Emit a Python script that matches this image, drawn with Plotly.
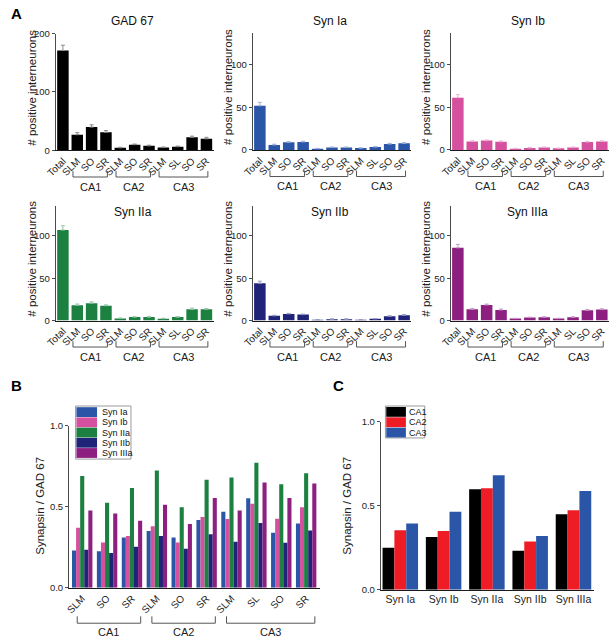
import plotly.graph_objects as go

W, H = 610, 640
FONT = "Liberation Sans, Arial, Helvetica, sans-serif"

# ---------------- data ----------------
region_labels = ["Total", "SLM", "SO", "SR", "SLM", "SO", "SR", "SLM", "SL", "SO", "SR"]
area_names = ["CA1", "CA2", "CA3"]
area_members = [[1, 2, 3], [4, 5, 6], [7, 8, 9, 10]]

gad67 = [171, 27, 40, 31, 4.5, 10, 8, 5, 6.5, 22.5, 20]
gad67_err = [9, 3.5, 4, 3, 1, 1, 1, 1, 1, 2, 2.5]
syn_ia = [52, 6, 9, 9.5, 1.5, 3, 3, 2.2, 3.5, 7, 7.8]
syn_ia_err = [4, 0.8, 0.8, 0.8, 0.4, 0.5, 0.5, 0.4, 0.5, 0.8, 0.8]
syn_ib = [61.5, 10, 11, 9.7, 1.5, 2.4, 3, 1.9, 3, 9.3, 10]
syn_ib_err = [3.5, 0.8, 0.8, 0.8, 0.4, 0.5, 0.5, 0.4, 0.5, 0.8, 0.8]
syn_iia = [107, 18, 20.5, 17.5, 2.5, 4, 4, 2.2, 4, 13.2, 13.2]
syn_iia_err = [5, 1.5, 1.5, 1, 0.5, 0.5, 0.5, 0.5, 0.5, 1.5, 1]
syn_iib = [44, 5.6, 7.8, 7, 0.8, 1.6, 1.6, 0.8, 2, 5, 6.3]
syn_iib_err = [2.5, 0.6, 0.6, 0.6, 0.3, 0.3, 0.3, 0.3, 0.3, 0.6, 0.6]
syn_iiia = [86, 13.3, 18.4, 12.5, 2.3, 3.5, 3.9, 2.3, 3.9, 12.1, 12.9]
syn_iiia_err = [4, 1, 1, 1, 0.4, 0.5, 0.5, 0.4, 0.5, 1, 1]

a_titles = ["GAD 67", "Syn Ia", "Syn Ib", "Syn IIa", "Syn IIb", "Syn IIIa"]
a_values = [gad67, syn_ia, syn_ib, syn_iia, syn_iib, syn_iiia]
a_errors = [gad67_err, syn_ia_err, syn_ib_err, syn_iia_err, syn_iib_err, syn_iiia_err]

# Panel B: synapsin / GAD67 ratio per region
b_regions = ["SLM", "SO", "SR", "SLM", "SO", "SR", "SLM", "SL", "SO", "SR"]
b_members = [[0, 1, 2], [3, 4, 5], [6, 7, 8, 9]]
b_series = ["Syn Ia", "Syn Ib", "Syn IIa", "Syn IIb", "Syn IIIa"]
b_syn_ia = [0.23, 0.225, 0.31, 0.35, 0.31, 0.418, 0.469, 0.552, 0.339, 0.396]
b_syn_ib = [0.37, 0.28, 0.32, 0.38, 0.28, 0.436, 0.424, 0.519, 0.426, 0.497]
b_syn_iia = [0.69, 0.525, 0.615, 0.724, 0.497, 0.667, 0.68, 0.771, 0.639, 0.706]
b_syn_iib = [0.235, 0.215, 0.254, 0.32, 0.241, 0.33, 0.284, 0.40, 0.278, 0.353]
b_syn_iiia = [0.477, 0.458, 0.414, 0.513, 0.394, 0.554, 0.477, 0.649, 0.554, 0.643]
b_values = [b_syn_ia, b_syn_ib, b_syn_iia, b_syn_iib, b_syn_iiia]

# Panel C: synapsin / GAD67 ratio per area
c_categories = ["Syn Ia", "Syn Ib", "Syn IIa", "Syn IIb", "Syn IIIa"]
c_series = ["CA1", "CA2", "CA3"]
c_ca1 = [0.25, 0.314, 0.598, 0.232, 0.449]
c_ca2 = [0.354, 0.35, 0.604, 0.287, 0.473]
c_ca3 = [0.395, 0.465, 0.682, 0.32, 0.588]
c_values = [c_ca1, c_ca2, c_ca3]

# ---------------- styles ----------------
syn_colors = ["#2b56a8", "#d5519f", "#1b8040", "#1f2478", "#8c1f80"]
a_colors = ["#000000"] + syn_colors
c_colors = ["#000000", "#ee1c24", "#2b56a8"]


def tint(hex_color, f=0.5):
    h = hex_color.lstrip("#")
    r, g, b = (int(h[i:i + 2], 16) for i in (0, 2, 4))
    r, g, b = (int(c + (255 - c) * f) for c in (r, g, b))
    return f"rgb({r},{g},{b})"


def px(x):
    return x / W


def py(y):
    return 1 - y / H


AXIS_Y = "#4a4a4a"
AXIS_X = "#1a1a1a"
BRACKET = "#555555"
YTICK_FONT = dict(size=9.5, color="#222")

# subplot frames in pixels: (left, right, top, bottom, ymax, dtick, title_y)
a_frames = [
    (46.5, 207, 28, 147, 200, 100, 15),
    (246.7, 408, 27, 146.5, 138, 50, 15),
    (448, 609, 27, 146.5, 138, 50, 15),
    (46.5, 207, 203, 320, 136, 50, 210),
    (246.7, 408, 203, 320, 136, 50, 210),
    (448, 609, 203, 320, 136, 50, 210),
]

fig = go.Figure()
layout = dict(
    width=W, height=H, margin=dict(l=0, r=0, t=0, b=0),
    paper_bgcolor="white", plot_bgcolor="white",
    showlegend=False, barmode="group", bargap=0.18, bargroupgap=0,
    font=dict(family=FONT, size=10, color="#222"),
)
shapes = []
annotations = []

xs = list(range(len(region_labels)))

for k in range(6):
    n = k + 1
    xa = "x" if n == 1 else f"x{n}"
    ya = "y" if n == 1 else f"y{n}"
    left, right, top, bottom, ymax, dtick, title_y = a_frames[k]
    fig.add_trace(go.Bar(
        x=xs, y=a_values[k], xaxis=xa, yaxis=ya, width=0.8,
        marker=dict(color=a_colors[k], line=dict(width=0)),
        error_y=dict(type="data", array=a_errors[k], symmetric=False, arrayminus=[0] * 11,
                     color=tint(a_colors[k], 0.55), thickness=1, width=2),
    ))
    layout[f"xaxis{n if n > 1 else ''}"] = dict(
        domain=[px(left), px(right)], anchor=ya, range=[-0.5, 10.5],
        tickmode="array", tickvals=xs, ticktext=region_labels, tickangle=-45,
        ticks="", showline=True, linecolor=AXIS_X, linewidth=1,
        showgrid=False, zeroline=False, tickfont=dict(size=10, color="#222"),
    )
    layout[f"yaxis{n if n > 1 else ''}"] = dict(
        domain=[py(bottom), py(top)], anchor=xa, range=[0, ymax],
        tickmode="linear", tick0=0, dtick=dtick,
        ticks="outside", ticklen=3, tickcolor=AXIS_Y, showline=True, linecolor=AXIS_Y,
        linewidth=1, showgrid=False, zeroline=False, tickfont=YTICK_FONT,
    )
    # subplot title
    annotations.append(dict(text=a_titles[k], xref="paper", yref="paper",
                            x=px((left + right) / 2 - 2), y=py(title_y), showarrow=False,
                            font=dict(size=12, color="#111"), xanchor="center", yanchor="middle"))
    # y title
    annotations.append(dict(text="# positive interneurons", xref="paper", yref="paper",
                            x=px(left - 24.5), y=py((top + bottom) / 2 - 4), textangle=-90,
                            showarrow=False, font=dict(size=11.5, color="#222"),
                            xanchor="center", yanchor="middle"))
    # area brackets
    for name, mem in zip(area_names, area_members):
        x0 = mem[0] - 0.3
        x1 = mem[-1] + 0.1
        yt, yb = py(bottom + 21), py(bottom + 27)
        shapes.append(dict(type="path", xref=xa, yref="paper",
                           path=f"M {x0},{yt} L {x0},{yb} L {x1},{yb} L {x1},{yt}",
                           line=dict(color=BRACKET, width=1)))
        annotations.append(dict(text=name, xref=xa, yref="paper", x=(x0 + x1) / 2,
                                y=py(bottom + 37), showarrow=False,
                                font=dict(size=11, color="#222"),
                                xanchor="center", yanchor="middle"))

# ---------------- panel B ----------------
bx = list(range(len(b_regions)))
for s, name in enumerate(b_series):
    fig.add_trace(go.Bar(x=bx, y=b_values[s], name=name, xaxis="x7", yaxis="y7",
                         marker=dict(color=syn_colors[s], line=dict(width=0))))
layout["xaxis7"] = dict(
    domain=[px(60), px(315)], anchor="y7", range=[-0.53, 9.55],
    tickmode="array", tickvals=bx, ticktext=b_regions, tickangle=-45, ticks="",
    showline=True, linecolor=AXIS_X, showgrid=False, zeroline=False,
    tickfont=dict(size=10, color="#222"),
)
layout["yaxis7"] = dict(
    domain=[py(592), py(427)], anchor="x7", range=[0, 1.0],
    tickvals=[0, 0.5, 1.0], tickformat=".1f", ticks="outside", ticklen=3,
    tickcolor=AXIS_Y, showline=True, linecolor=AXIS_Y, showgrid=False, zeroline=False,
    tickfont=YTICK_FONT,
)
annotations.append(dict(text="Synapsin / GAD 67", xref="paper", yref="paper",
                        x=px(31), y=py(508), textangle=-90, showarrow=False,
                        xanchor="center", yanchor="middle",
                        font=dict(size=11.5, color="#222")))
for name, mem in zip(area_names, b_members):
    x0 = mem[0] - 0.2
    x1 = mem[-1] + 0.35
    yt, yb = py(621), py(628)
    shapes.append(dict(type="path", xref="x7", yref="paper",
                       path=f"M {x0},{yt} L {x0},{yb} L {x1},{yb} L {x1},{yt}",
                       line=dict(color=BRACKET, width=1)))
    annotations.append(dict(text=name, xref="x7", yref="paper", x=(x0 + x1) / 2,
                            y=py(636.5), showarrow=False, font=dict(size=11, color="#222"),
                            xanchor="center", yanchor="middle"))

# legend B (drawn)
shapes.append(dict(type="rect", xref="paper", yref="paper", x0=px(66.7), x1=px(123),
                   y0=py(461), y1=py(407), line=dict(color="#9a9a9a", width=1),
                   fillcolor="white"))
for s, name in enumerate(b_series):
    yc = 413.2 + 10.4 * s
    shapes.append(dict(type="rect", xref="paper", yref="paper", x0=px(67.5), x1=px(88.5),
                       y0=py(yc + 5), y1=py(yc - 5), line=dict(width=0),
                       fillcolor=syn_colors[s]))
    annotations.append(dict(text=name, xref="paper", yref="paper", x=px(91.5), y=py(yc),
                            xanchor="left", yanchor="middle", showarrow=False,
                            font=dict(size=9, color="#111")))

# ---------------- panel C ----------------
cx = list(range(len(c_categories)))
for s, name in enumerate(c_series):
    fig.add_trace(go.Bar(x=cx, y=c_values[s], name=name, xaxis="x8", yaxis="y8",
                         marker=dict(color=c_colors[s], line=dict(width=0))))
layout["xaxis8"] = dict(
    domain=[px(377), px(594)], anchor="y8", range=[-0.45, 4.48],
    tickmode="array", tickvals=cx, ticktext=c_categories, ticks="",
    showline=True, linecolor=AXIS_X, showgrid=False, zeroline=False,
    tickfont=dict(size=10.5, color="#222"),
)
layout["yaxis8"] = dict(
    domain=[py(594), py(423)], anchor="x8", range=[0, 1.0],
    tickvals=[0, 0.5, 1.0], tickformat=".1f", ticks="outside", ticklen=3,
    tickcolor=AXIS_Y, showline=True, linecolor=AXIS_Y, showgrid=False, zeroline=False,
    tickfont=YTICK_FONT,
)
annotations.append(dict(text="Synapsin / GAD 67", xref="paper", yref="paper",
                        x=px(343), y=py(508), textangle=-90, showarrow=False,
                        xanchor="center", yanchor="middle",
                        font=dict(size=11.5, color="#222")))

# legend C (drawn)
shapes.append(dict(type="rect", xref="paper", yref="paper", x0=px(381.7), x1=px(421.7),
                   y0=py(439.5), y1=py(407), line=dict(color="#9a9a9a", width=1),
                   fillcolor="white"))
for s, name in enumerate(c_series):
    yc = 413 + 10.5 * s
    shapes.append(dict(type="rect", xref="paper", yref="paper", x0=px(382.5), x1=px(402.5),
                       y0=py(yc + 5), y1=py(yc - 5), line=dict(width=0),
                       fillcolor=c_colors[s]))
    annotations.append(dict(text=name, xref="paper", yref="paper", x=px(403.5), y=py(yc),
                            xanchor="left", yanchor="middle", showarrow=False,
                            font=dict(size=9, color="#111")))

# panel letters
for letter, (lx, ly) in zip(["A", "B", "C"], [(7, 8), (7, 386), (334, 386)]):
    annotations.append(dict(text=f"<b>{letter}</b>", xref="paper", yref="paper",
                            x=px(lx), y=py(ly), showarrow=False,
                            font=dict(size=15, color="#000"),
                            xanchor="center", yanchor="middle"))

layout["shapes"] = shapes
layout["annotations"] = annotations
fig.update_layout(**layout)
fig.write_html(
    "out.html",
    config={"displayModeBar": False, "staticPlot": True},
    post_script="document.body.style.margin='0';document.body.style.overflow='hidden';",
)
